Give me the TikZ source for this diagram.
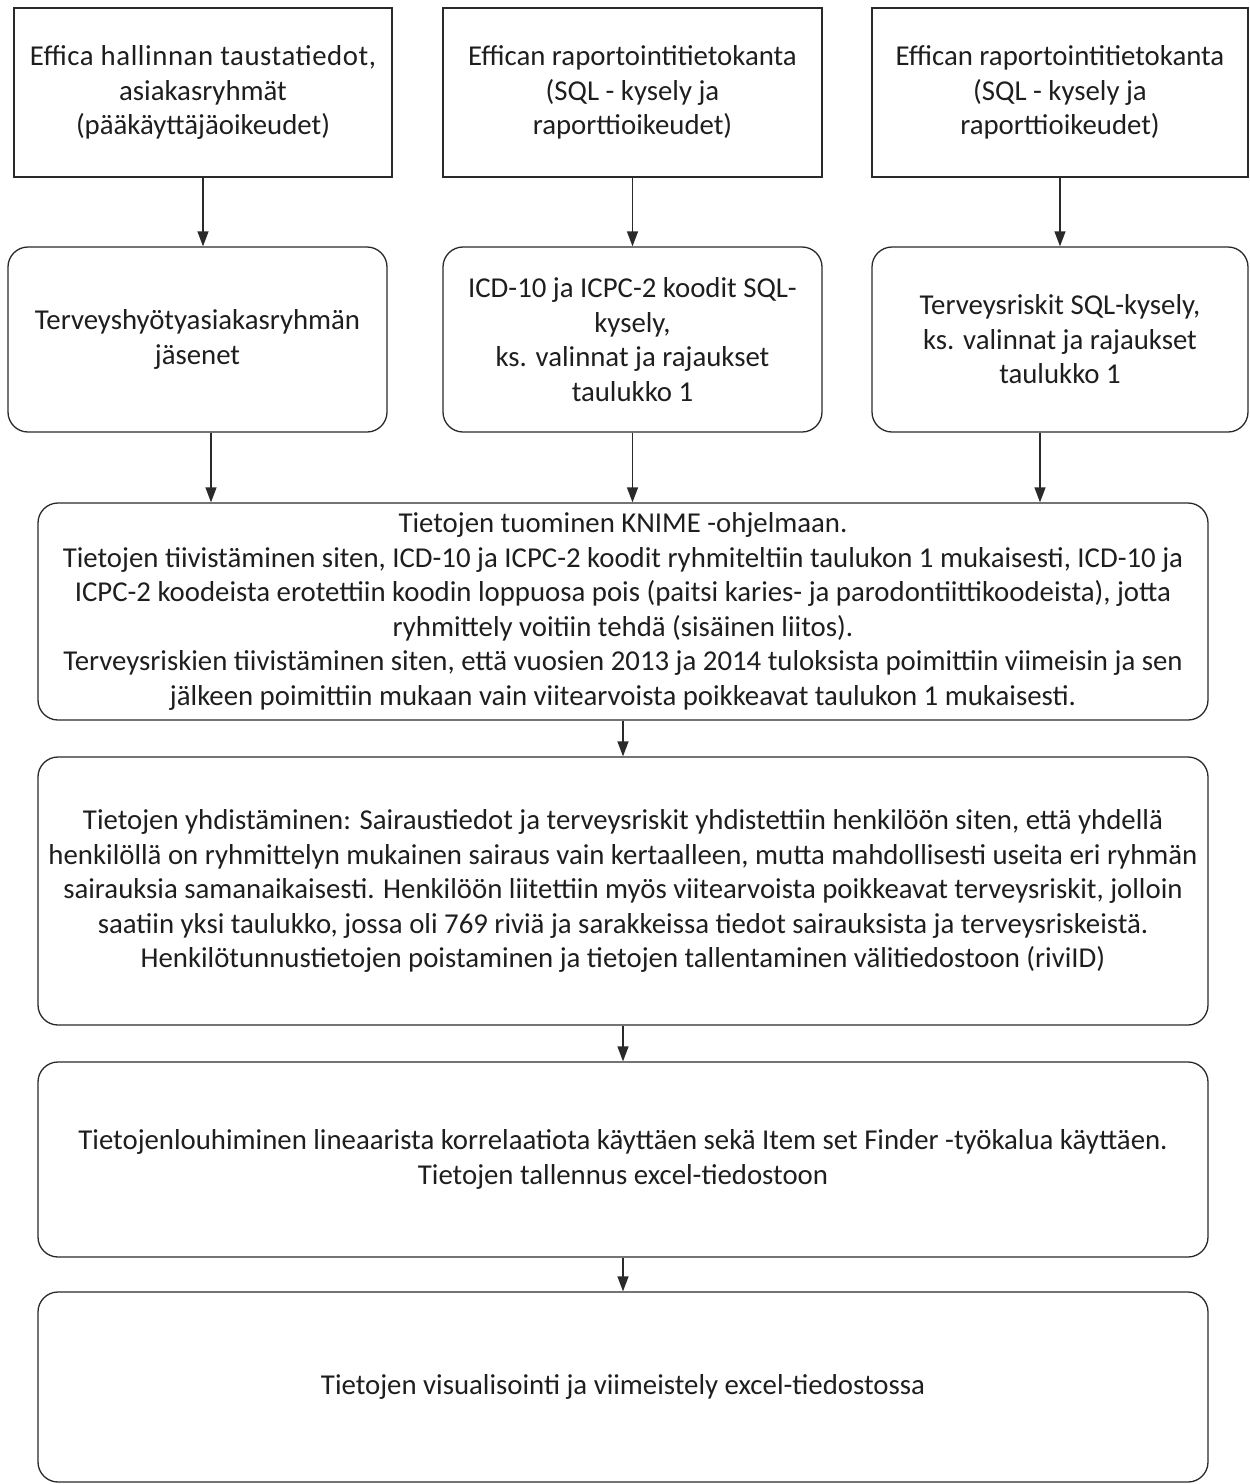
\documentclass[tikz,border=0pt]{standalone}
\usepackage{fontspec}
\setmainfont{Carlito}
\usetikzlibrary{arrows.meta,calc}
\definecolor{ln}{HTML}{2A2A2A}
\definecolor{tx}{HTML}{1E1E1E}
\tikzset{
  base/.style={draw=ln, line width=1.3pt, text=tx, align=center, inner sep=0pt, anchor=center,
    font=\fontsize{28.8}{34.5}\selectfont},
  sqbox/.style={base},
  rbox/.style={base, rounded corners=20pt},
  arr/.style={draw=ln, line width=1.3pt, -{Triangle[length=15pt,width=11pt]}}
}
\begin{document}
\begin{tikzpicture}[x=1pt,y=-1pt]
\useasboundingbox (0,0) rectangle (1250,1484);
\node[sqbox, minimum width=378pt, minimum height=169pt] (b1) at (203,92.5)
  {\addfontfeature{LetterSpace=2}Effica hallinnan taustatiedot,\\asiakasryhmät\\(pääkäyttäjäoikeudet)};
\node[sqbox, minimum width=379pt, minimum height=169pt] (b2) at (632.5,92.5)
  {Effican raportointitietokanta\\(SQL - kysely ja\\raporttioikeudet)};
\node[sqbox, minimum width=376pt, minimum height=169pt] (b3) at (1060,92.5)
  {Effican raportointitietokanta\\(SQL - kysely ja\\raporttioikeudet)};
\node[rbox, minimum width=379pt, minimum height=185pt] (b4) at (197.5,339.5)
  {Terveyshyötyasiakasryhmän\\jäsenet};
\node[rbox, minimum width=379pt, minimum height=185pt] (b5) at (632.5,339.5)
  {ICD-10 ja ICPC-2 koodit SQL-\\kysely,\\ks. valinnat ja rajaukset\\taulukko 1};
\node[rbox, minimum width=376pt, minimum height=185pt] (b6) at (1060,339.5)
  {Terveysriskit SQL-kysely,\\ks. valinnat ja rajaukset\\taulukko 1};
\node[rbox, minimum width=1170pt, minimum height=217pt] (b7) at (623,611.5)
  {Tietojen tuominen KNIME -ohjelmaan.\\
   Tietojen tiivistäminen siten, ICD-10 ja ICPC-2 koodit ryhmiteltiin taulukon 1 mukaisesti, ICD-10 ja\\
   ICPC-2 koodeista erotettiin koodin loppuosa pois (paitsi karies- ja parodontiittikoodeista), jotta\\
   ryhmittely voitiin tehdä (sisäinen liitos).\\
   Terveysriskien tiivistäminen siten, että vuosien 2013 ja 2014 tuloksista poimittiin viimeisin ja sen\\
   jälkeen poimittiin mukaan vain viitearvoista poikkeavat taulukon 1 mukaisesti.};
\node[rbox, minimum width=1170pt, minimum height=268pt] (b8) at (623,891)
  {Tietojen yhdistäminen: Sairaustiedot ja terveysriskit yhdistettiin henkilöön siten, että yhdellä\\
   henkilöllä on ryhmittelyn mukainen sairaus vain kertaalleen, mutta mahdollisesti useita eri ryhmän\\
   sairauksia samanaikaisesti. Henkilöön liitettiin myös viitearvoista poikkeavat terveysriskit, jolloin\\
   saatiin yksi taulukko, jossa oli 769 riviä ja sarakkeissa tiedot sairauksista ja terveysriskeistä.\\
   Henkilötunnustietojen poistaminen ja tietojen tallentaminen välitiedostoon (riviID)};
\node[rbox, minimum width=1170pt, minimum height=195pt] (b9) at (623,1159.5)
  {Tietojenlouhiminen lineaarista korrelaatiota käyttäen sekä Item set Finder -työkalua käyttäen.\\
   Tietojen tallennus excel-tiedostoon};
\node[rbox, minimum width=1170pt, minimum height=190pt] (b10) at (623,1387)
  {Tietojen visualisointi ja viimeistely excel-tiedostossa};
\draw[arr] (b1.south) -- (b1.south |- b4.north);
\draw[arr] (b2.south) -- (b2.south |- b5.north);
\draw[arr] (b3.south) -- (b3.south |- b6.north);
\draw[arr] ([xshift=13.5pt]b4.south) -- ([xshift=13.5pt]b4.south |- b7.north);
\draw[arr] (b5.south) -- (b5.south |- b7.north);
\draw[arr] ([xshift=-20pt]b6.south) -- ([xshift=-20pt]b6.south |- b7.north);
\draw[arr] (b7.south) -- (b8.north);
\draw[arr] (b8.south) -- (b9.north);
\draw[arr] (b9.south) -- (b10.north);
\end{tikzpicture}
\end{document}
